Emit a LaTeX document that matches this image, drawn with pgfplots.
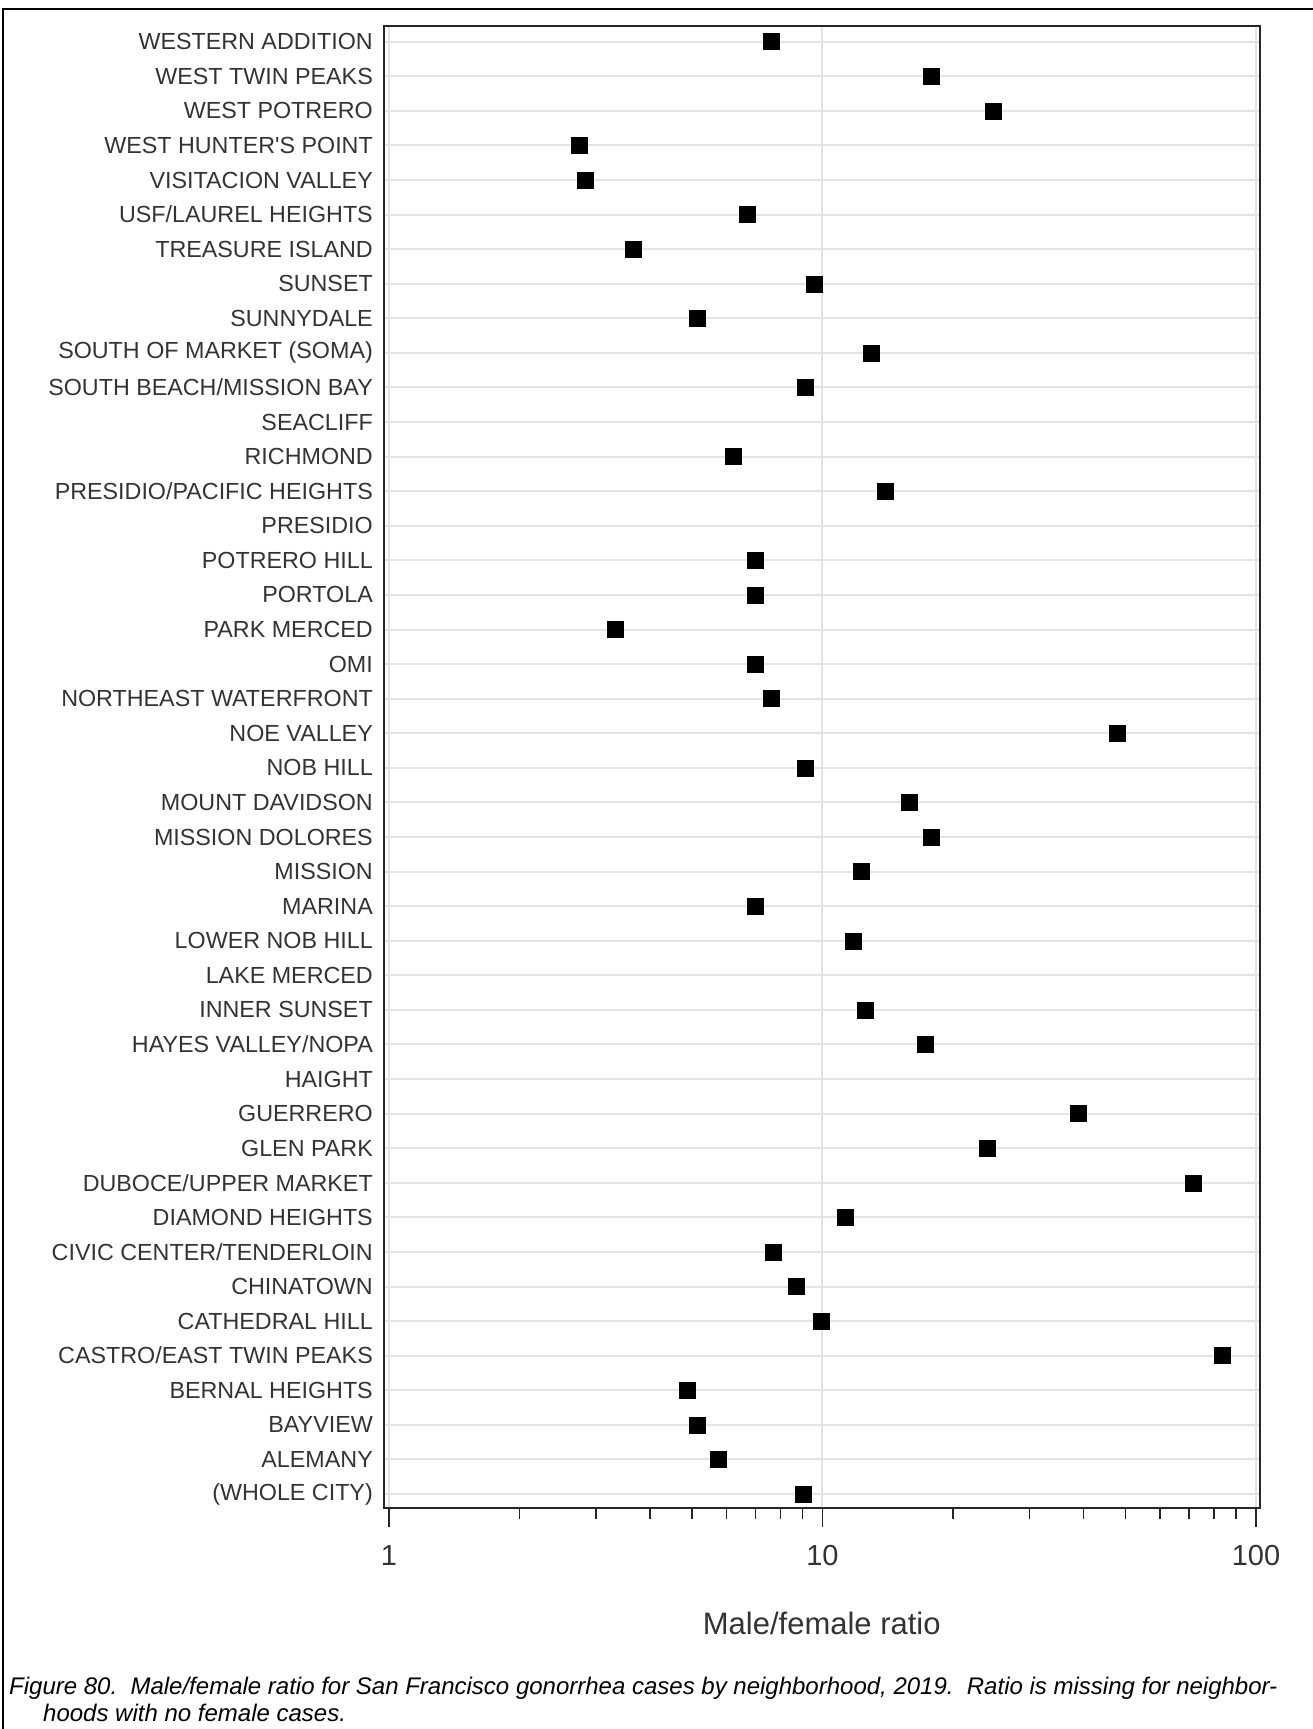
\documentclass[border=0pt]{standalone}
\usepackage{fontspec}
\setmainfont{Liberation Sans}[Ligatures=TeXOff]
\usepackage{pgfplots}
\pgfplotsset{compat=1.18}
\definecolor{gridc}{HTML}{E3E3E3}
\definecolor{txt}{HTML}{333333}
\definecolor{axc}{HTML}{262626}
\pgfplotstableread{
y v
0 9.02
1 5.76
2 5.13
3 4.87
4 83.8
5 9.92
6 8.72
7 7.68
8 11.27
9 71.5
10 23.93
11 38.98
13 17.22
14 12.54
16 11.76
17 6.98
18 12.27
19 17.8
20 15.81
21 9.10
22 47.8
23 7.61
24 6.98
25 3.32
26 6.98
27 6.98
29 13.95
30 6.22
32 9.10
33 12.92
34 5.13
35 9.59
36 3.66
37 6.69
38 2.83
39 2.75
40 24.75
41 17.8
42 7.61
}\ratios
\begin{document}
\begin{tikzpicture}[x=1pt,y=1pt]
\path[use as bounding box] (0,0) rectangle (1312,1729);
\draw[black, line width=2.5pt] (3,-5) -- (3,1720) -- (1320,1720);
\begin{axis}[
  at={(384pt,220.7pt)}, anchor=south west,
  scale only axis, width=875.5pt, height=1482.6pt,
  xmode=log, xmin=0.9738, xmax=101.9,
  ymin=-0.414, ymax=42.463,
  xtick={1,10,100}, xticklabels={1,10,100},
  minor xtick={2,3,4,5,6,7,8,9,20,30,40,50,60,70,80,90},
  ytick={0,...,42},
  yticklabels={(WHOLE CITY),ALEMANY,BAYVIEW,BERNAL HEIGHTS,CASTRO/EAST TWIN PEAKS,CATHEDRAL HILL,CHINATOWN,CIVIC CENTER/TENDERLOIN,DIAMOND HEIGHTS,DUBOCE/UPPER MARKET,GLEN PARK,GUERRERO,HAIGHT,HAYES VALLEY/NOPA,INNER SUNSET,LAKE MERCED,LOWER NOB HILL,MARINA,MISSION,MISSION DOLORES,MOUNT DAVIDSON,NOB HILL,NOE VALLEY,NORTHEAST WATERFRONT,OMI,PARK MERCED,PORTOLA,POTRERO HILL,PRESIDIO,PRESIDIO/PACIFIC HEIGHTS,RICHMOND,SEACLIFF,SOUTH BEACH/MISSION BAY,SOUTH OF MARKET (SOMA),SUNNYDALE,SUNSET,TREASURE ISLAND,USF/LAUREL HEIGHTS,VISITACION VALLEY,WEST HUNTER'S POINT,WEST POTRERO,WEST TWIN PEAKS,WESTERN ADDITION},
  xmajorgrids, ymajorgrids,
  major grid style={gridc, line width=2pt},
  tick align=outside,
  xtick pos=bottom, ytick pos=left,
  major tick length=18.3pt, minor tick length=11pt,
  xtick style={axc, line width=1.6pt},
  ytick style={draw=none},
  axis line style={axc, line width=2pt},
  yticklabel style={font=\fontsize{23.3}{28}\selectfont, color=txt, anchor=east, inner sep=0pt, xshift=7.3pt},
  xticklabel style={font=\fontsize{29}{34}\selectfont, color=txt, anchor=center, inner sep=0pt, yshift=-29.4pt},
  xlabel={Male/female ratio},
  xlabel style={font=\fontsize{31}{36}\selectfont, color=txt, at={(axis description cs:0.5,0)}, anchor=center, inner sep=0pt, yshift=-114.7pt},
  clip=false,
]
\addplot[only marks, mark=square*, mark size=8pt, mark options={fill=black, draw=black}] table[x=v, y=y] {\ratios};
\end{axis}
\node[anchor=base west, inner sep=0pt, font=\fontsize{24}{29}\selectfont\itshape] at (9,34) {Figure 80.\ \ Male/female ratio for San Francisco gonorrhea cases by neighborhood, 2019.\ \ Ratio is missing for neighbor-};
\node[anchor=base west, inner sep=0pt, font=\fontsize{24}{29}\selectfont\itshape] at (43,8) {hoods with no female cases.};
\end{tikzpicture}
\end{document}
